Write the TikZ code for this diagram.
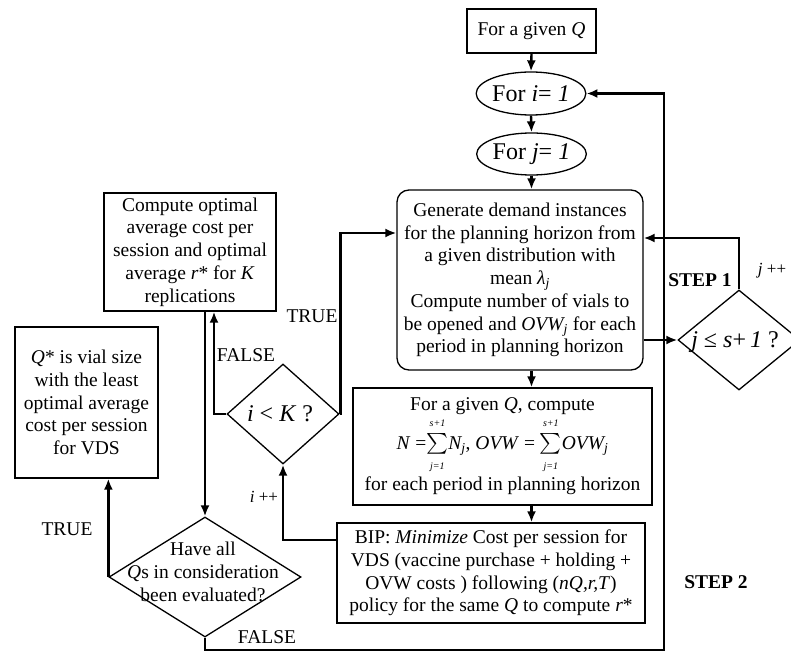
\documentclass[tikz,border=0pt]{standalone}
\usepackage{amsmath}
\usepackage{fontspec}
\setmainfont{Liberation Serif}
\usetikzlibrary{shapes.geometric,arrows.meta}
\newcommand{\limfont}{\fontsize{10}{10}\selectfont\itshape}
\newcommand{\uplim}[1]{\raisebox{3pt}{\limfont #1}}
\newcommand{\lowlim}[1]{\raisebox{-3pt}{\limfont #1}}
\begin{document}
\begin{tikzpicture}[x=1pt,y=-1pt,
  base/.style={font=\fontsize{19.5}{22.7}\selectfont, inner sep=0pt, align=center},
  box/.style={base, draw, line width=1.3pt, rectangle},
  rbox/.style={box, rounded corners=12pt},
  oval/.style={draw, line width=1.3pt, ellipse, inner sep=0pt, font=\fontsize{24}{28}\selectfont},
  dia/.style={draw, line width=1.3pt, diamond, inner sep=0pt},
  bigtxt/.style={inner sep=0pt, font=\fontsize{24}{28}\selectfont},
  conn/.style={line width=2.4pt, -{Latex[length=11pt,width=9pt]}},
  lbl/.style={base},
  smalllbl/.style={inner sep=0pt, font=\fontsize{17}{20}\selectfont},
  steplbl/.style={inner sep=0pt, font=\fontsize{19.5}{22.7}\selectfont\bfseries}]
\useasboundingbox (0,0) rectangle (791,652);

\node[box, minimum width=129, minimum height=44] (q) at (531.5,31) {For a given \textit{Q}};
\node[oval, minimum width=104, minimum height=43] (fi) at (531,93.5) {For \textit{i}= \textit{1}};
\node[oval, minimum width=103, minimum height=42] (fj) at (531.5,154) {For \textit{j}= \textit{1}};
\node[rbox, minimum width=246, minimum height=180] (gen) at (520,280)
  {Generate demand instances\\for the planning horizon from\\a given distribution with\\mean \textit{λ\textsubscript{j}}\\Compute number of vials to\\be opened and \textit{OVW\textsubscript{j}} for each\\period in planning horizon};
\node[box, minimum width=299, minimum height=117] (cmp) at (502.5,446.5)
  {For a given \textit{Q}, compute\\[2pt]
   \textit{N} =$\sum\limits_{\mbox{\lowlim{j=1}}}^{\mbox{\uplim{s+1}}}$\textit{N\textsubscript{j}}, \textit{OVW} = $\sum\limits_{\mbox{\lowlim{j=1}}}^{\mbox{\uplim{s+1}}}$\textit{OVW\textsubscript{j}}\\[2pt]
   for each period in planning horizon};
\node[box, minimum width=308, minimum height=100] (bip) at (491,573)
  {BIP: \textit{Minimize} Cost per session for\\VDS (vaccine purchase + holding +\\OVW costs ) following (\textit{nQ,r,T})\\policy for the same \textit{Q} to compute \textit{r}*};
\node[box, minimum width=172, minimum height=118] (opt) at (190,252)
  {Compute optimal\\average cost per\\session and optimal\\average \textit{r}* for \textit{K}\\replications};
\node[box, minimum width=143, minimum height=151] (qs) at (86.5,402.5)
  {\textit{Q}* is vial size\\with the least\\optimal average\\cost per session\\for VDS};
\node[dia, minimum width=112, minimum height=100] (ik) at (283,414) {};
\node[bigtxt] (iktxt) at (280,414) {\textit{i} < \textit{K} ?};
\node[dia, minimum width=122, minimum height=100] (js) at (739,340) {};
\node[bigtxt] (jstxt) at (735,342) {\textit{j} ≤ \textit{s}+\,\textit{1} ?};
\node[dia, minimum width=192, minimum height=120] (ha) at (205,577) {};
\node[base] (hatxt) at (203,572) {Have all\\\textit{Q}s in consideration\\been evaluated?};

\coordinate (fr) at (664,650);

\draw[conn] (q.south) -- (fi.north);
\draw[conn] (fi.south) -- (fj.north);
\draw[conn] (fj.south) -- (fj.south |- gen.north);
\draw[conn] (gen.south -| fj.south) -- (cmp.north -| fj.south);
\draw[conn] (cmp.south -| fj.south) -- (bip.north -| fj.south);
\draw[conn] (gen.east |- js.west) -- (js.west);
\draw[conn] (js.north) |- ([yshift=42pt]gen.east);
\draw[conn] ([yshift=33pt]bip.west) -| (ik.south);
\draw[conn] (ik.east) -- ([xshift=1pt]ik.east) |- ([yshift=47pt]gen.west);
\draw[conn] (ik.west) -| ([xshift=24pt]opt.south);
\draw[conn] ([xshift=15pt]opt.south) -- (ha.north);
\draw[conn] (ha.west) -- (ha.west |- qs.south);
\draw[conn] (ha.south) |- (fr) |- (fi.east);

\node[lbl] (t1) at (312,316) {TRUE};
\node[lbl] (f1) at (246,355) {FALSE};
\node[lbl] (t2) at (67,529) {TRUE};
\node[lbl] (f2) at (267,637) {FALSE};
\node[smalllbl] (ipp) at (264,497) {\textit{i} ++};
\node[smalllbl] (jpp) at (772,271) {\textit{j} ++};
\node[steplbl] (s1) at (700,280) {STEP 1};
\node[steplbl] (s2) at (716,582) {STEP 2};
\end{tikzpicture}
\end{document}
